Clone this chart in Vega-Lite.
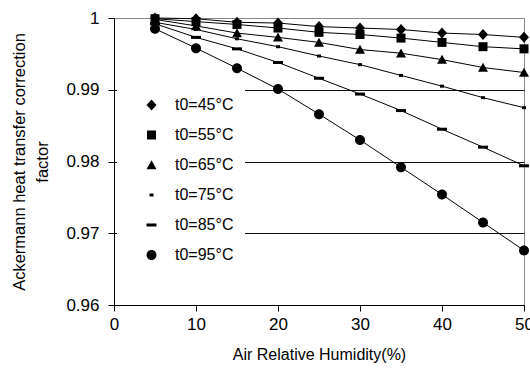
{
  "$schema": "https://vega.github.io/schema/vega-lite/v6.json",
  "width": 410,
  "height": 287,
  "autosize": "none",
  "padding": {"left": 114, "top": 18, "right": 6, "bottom": 68},
  "background": "white",
  "config": {"font": "Liberation Sans", "view": {"stroke": "#888", "strokeWidth": 1}},
  "data": {"values": [
    {"h":5,"s":"t0=45°C","v":1.0},{"h":10,"s":"t0=45°C","v":0.9999},{"h":15,"s":"t0=45°C","v":0.9994},{"h":20,"s":"t0=45°C","v":0.9993},{"h":25,"s":"t0=45°C","v":0.9988},{"h":30,"s":"t0=45°C","v":0.9986},{"h":35,"s":"t0=45°C","v":0.9984},{"h":40,"s":"t0=45°C","v":0.9979},{"h":45,"s":"t0=45°C","v":0.9977},{"h":50,"s":"t0=45°C","v":0.9973},
    {"h":5,"s":"t0=55°C","v":0.9999},{"h":10,"s":"t0=55°C","v":0.9995},{"h":15,"s":"t0=55°C","v":0.9991},{"h":20,"s":"t0=55°C","v":0.9986},{"h":25,"s":"t0=55°C","v":0.998},{"h":30,"s":"t0=55°C","v":0.9977},{"h":35,"s":"t0=55°C","v":0.9972},{"h":40,"s":"t0=55°C","v":0.9966},{"h":45,"s":"t0=55°C","v":0.996},{"h":50,"s":"t0=55°C","v":0.9957},
    {"h":5,"s":"t0=65°C","v":0.9998},{"h":10,"s":"t0=65°C","v":0.9989},{"h":15,"s":"t0=65°C","v":0.9979},{"h":20,"s":"t0=65°C","v":0.9973},{"h":25,"s":"t0=65°C","v":0.9966},{"h":30,"s":"t0=65°C","v":0.9956},{"h":35,"s":"t0=65°C","v":0.9951},{"h":40,"s":"t0=65°C","v":0.9942},{"h":45,"s":"t0=65°C","v":0.9931},{"h":50,"s":"t0=65°C","v":0.9924},
    {"h":5,"s":"t0=75°C","v":0.9994},{"h":10,"s":"t0=75°C","v":0.9984},{"h":15,"s":"t0=75°C","v":0.9971},{"h":20,"s":"t0=75°C","v":0.996},{"h":25,"s":"t0=75°C","v":0.9947},{"h":30,"s":"t0=75°C","v":0.9935},{"h":35,"s":"t0=75°C","v":0.992},{"h":40,"s":"t0=75°C","v":0.9905},{"h":45,"s":"t0=75°C","v":0.9889},{"h":50,"s":"t0=75°C","v":0.9875},
    {"h":5,"s":"t0=85°C","v":0.9992},{"h":10,"s":"t0=85°C","v":0.9973},{"h":15,"s":"t0=85°C","v":0.9957},{"h":20,"s":"t0=85°C","v":0.9938},{"h":25,"s":"t0=85°C","v":0.9916},{"h":30,"s":"t0=85°C","v":0.9894},{"h":35,"s":"t0=85°C","v":0.9871},{"h":40,"s":"t0=85°C","v":0.9845},{"h":45,"s":"t0=85°C","v":0.982},{"h":50,"s":"t0=85°C","v":0.9794},
    {"h":5,"s":"t0=95°C","v":0.9985},{"h":10,"s":"t0=95°C","v":0.9958},{"h":15,"s":"t0=95°C","v":0.993},{"h":20,"s":"t0=95°C","v":0.9901},{"h":25,"s":"t0=95°C","v":0.9866},{"h":30,"s":"t0=95°C","v":0.983},{"h":35,"s":"t0=95°C","v":0.9792},{"h":40,"s":"t0=95°C","v":0.9754},{"h":45,"s":"t0=95°C","v":0.9715},{"h":50,"s":"t0=95°C","v":0.9676}
  ]},
  "encoding": {
    "x": {"field": "h", "type": "quantitative", "scale": {"domain": [0, 50], "nice": false},
      "axis": {"values": [0, 10, 20, 30, 40, 50], "title": "Air Relative Humidity(%)", "grid": false,
        "domainColor": "black", "tickColor": "black", "tickSize": 6, "labelFontSize": 17, "labelColor": "black",
        "labelPadding": 5, "labelFlush": false, "labelOverlap": false,
        "titleFontSize": 16, "titleFontWeight": "normal", "titleColor": "black", "titlePadding": 14}},
    "y": {"field": "v", "type": "quantitative", "scale": {"domain": [0.96, 1], "nice": false, "zero": false},
      "axis": {"values": [0.96, 0.97, 0.98, 0.99, 1], "format": "~g",
        "title": ["Ackermann heat transfer correction", "factor"], "titleLineHeight": 23,
        "grid": true, "gridColor": {"condition": {"test": "datum.value >= 1", "value": "#888"}, "value": "#111"}, "gridOpacity": 1,
        "domainColor": "black", "tickColor": "black", "tickSize": 6, "labelFontSize": 17, "labelColor": "black",
        "labelPadding": 9, "labelOverlap": false, "labelFlush": false,
        "titleFontSize": 16.5, "titleFontWeight": "normal", "titleColor": "black", "titlePadding": 15}}
  },
  "layer": [
    {"mark": {"type": "line", "color": "black", "strokeWidth": 1}, "encoding": {"detail": {"field": "s"}}},
    {"mark": {"type": "point", "filled": true, "color": "black", "opacity": 1, "size": 100},
     "encoding": {"shape": {"field": "s", "type": "nominal",
       "scale": {"domain": ["t0=45°C", "t0=55°C", "t0=65°C", "t0=75°C", "t0=85°C", "t0=95°C"],
         "range": ["M-1,0L0,-1.1L1,0L0,1.1Z", "M-0.9,-0.9H0.9V0.9H-0.9Z", "M0,-0.95L1,0.85H-1Z", "M-0.4,-0.3H0.4V0.3H-0.4Z", "M-1,-0.3H1V0.3H-1Z", "M1,0A1,1,0,1,1,-1,0A1,1,0,1,1,1,0Z"]},
       "legend": {"title": null, "orient": "none", "legendX": 3, "legendY": 68, "padding": 11,
         "fillColor": "white", "strokeColor": null, "symbolSize": 100, "symbolOffset": 15.5, "labelOffset": 15.5,
         "labelFontSize": 16, "labelColor": "black", "rowPadding": 14,
         "symbolFillColor": "black", "symbolStrokeColor": "black", "symbolStrokeWidth": 1, "symbolOpacity": 1}}}}
  ]
}
